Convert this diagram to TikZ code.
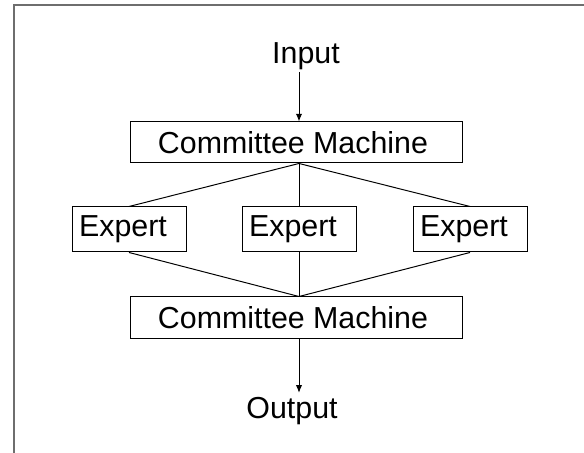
\documentclass[tikz,border=0pt]{standalone}
\usepackage{fontspec}
\setmainfont{Liberation Sans}
\usepackage{tikz}
\usetikzlibrary{arrows.meta,positioning}
\definecolor{framegray}{RGB}{110,110,110}
\tikzstyle{machine} = [rectangle, minimum width=8.3cm, minimum height=1.025cm, inner sep=0pt, text centered, draw=black, line width=0.7pt]
\tikzstyle{expert} = [rectangle, minimum width=2.85cm, minimum height=1.125cm, inner sep=0pt, text centered, draw=black, line width=0.7pt]
\tikzstyle{label} = [anchor=base, text centered]
\tikzstyle{link} = [line width=0.7pt, color=black]
\tikzstyle{arrow} = [line width=0.7pt, -{Latex[length=5.5pt,width=4.5pt]}, color=black]

\begin{document}
\begin{tikzpicture}[font=\fontsize{21.6}{25}\selectfont]
\useasboundingbox (0,0) rectangle (14.6,11.325);
% frame
\draw[framegray, line width=1.1pt] (0.35,0) -- (0.35,11.2) -- (14.6,11.2);

% Input / Output
\node[label, inner sep=1pt] (input) at (7.65,9.725) {Input};
\node[label] (output) at (7.3,0.85) {Output};

% Committee machines
\node[machine] (cm1) at (7.4,7.7625) {\hspace*{-0.15cm}Committee Machine};
\node[machine] (cm2) at (7.4,3.3875) {\hspace*{-0.15cm}Committee Machine};

% Experts
\node[expert] (exp1) at (3.225,5.5875) {\hspace*{-0.3cm}Expert};
\node[expert] (exp2) at (7.475,5.5875) {\hspace*{-0.3cm}Expert};
\node[expert] (exp3) at (11.75,5.5875) {\hspace*{-0.3cm}Expert};

% Arrows
\draw[arrow] (exp2 |- input.south) -- (exp2 |- cm1.north);
\draw[arrow] (exp2 |- cm2.south) -- (exp2 |- output.north);

% Links
\draw[link] (exp2.north |- cm1.south) -- (exp1.north);
\draw[link] (exp2.north |- cm1.south) -- (exp2.north);
\draw[link] (exp2.north |- cm1.south) -- (exp3.north);
\draw[link] (exp1.south) -- (exp2.south |- cm2.north);
\draw[link] (exp2.south) -- (exp2.south |- cm2.north);
\draw[link] (exp3.south) -- (exp2.south |- cm2.north);
\end{tikzpicture}
\end{document}
